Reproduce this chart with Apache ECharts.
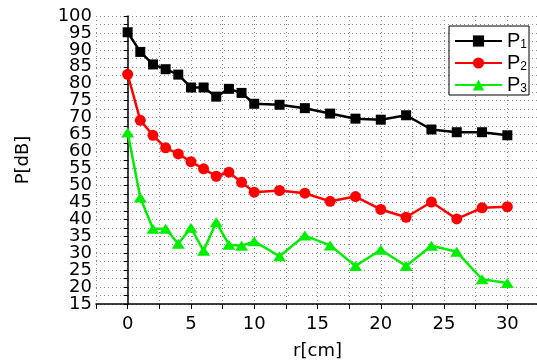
<!DOCTYPE html>
<html>
<head>
<meta charset="utf-8">
<script src="https://cdn.jsdelivr.net/npm/echarts@6/dist/echarts.min.js"></script>
<style>
html,body{margin:0;padding:0;background:#fff;}
#chart{width:537px;height:361px;}
</style>
</head>
<body>
<div id="chart"></div>
<script>
// r [cm] positions shared by all three series
var rValues = [0, 1, 2, 3, 4, 5, 6, 7, 8, 9, 10, 12, 14, 16, 18, 20, 22, 24, 26, 28, 30];
var p1 = [95.2, 89.4, 85.7, 84.3, 82.7, 78.9, 78.9, 76.2, 78.5, 77.3, 74.1, 73.8, 72.8, 71.2, 69.7, 69.4, 70.7, 66.5, 65.7, 65.7, 64.8];
var p2 = [82.8, 69.2, 64.8, 61.1, 59.3, 57.0, 54.9, 52.7, 53.9, 50.9, 48.0, 48.5, 47.7, 45.3, 46.7, 42.9, 40.6, 45.1, 40.1, 43.4, 43.7];
var p3 = [65.6, 46.4, 37.2, 37.2, 32.8, 37.5, 30.7, 39.1, 32.5, 32.2, 33.5, 29.1, 35.2, 32.3, 26.2, 31.0, 26.2, 32.2, 30.4, 22.3, 21.2];
var seriesNames = ['P1', 'P2', 'P3'];
var xTicks = [0, 5, 10, 15, 20, 25, 30];
var yTicks = [15, 20, 25, 30, 35, 40, 45, 50, 55, 60, 65, 70, 75, 80, 85, 90, 95, 100];

function pairs(ys) {
  return rValues.map(function (r, i) { return [r, ys[i]]; });
}

var chart = echarts.init(document.getElementById('chart'));
var font = 'DejaVu Sans';
var dotted = { type: [1, 3], color: '#8a8a8a', width: 1 };

var option = {
  animation: false,
  grid: { left: 96, top: 16, bottom: 57, right: -2, outerBoundsMode: 'none', containLabel: false },
  legend: {
    left: 449, top: 26,
    orient: 'vertical',
    data: seriesNames,
    backgroundColor: '#fff',
    borderColor: '#000', borderWidth: 1,
    padding: [5, 2, 0, 5],
    itemWidth: 47, itemHeight: 14, itemGap: 2,
    formatter: function (name) { return 'P{s|' + name.slice(1) + '}'; },
    textStyle: {
      fontFamily: 'Liberation Sans', fontSize: 20, color: '#000',
      rich: { s: { fontFamily: 'Liberation Sans', fontSize: 12, color: '#000', padding: [8, 0, 0, 0] } }
    }
  },
  xAxis: {
    type: 'value', min: -2.5, max: 32.5, interval: 2.5,
    name: 'r[cm]', nameLocation: 'middle', nameGap: 38,
    nameTextStyle: { fontFamily: font, fontSize: 18, color: '#000' },
    axisLine: { lineStyle: { color: '#000', width: 1.5 } },
    axisTick: { length: 5, lineStyle: { color: '#000' } },
    axisLabel: {
      fontFamily: font, fontSize: 18, color: '#000', margin: 11,
      formatter: function (v) { return xTicks.indexOf(v) >= 0 ? String(v) : ''; }
    },
    splitLine: { show: true, lineStyle: dotted }
  },
  yAxis: {
    type: 'value', min: 15, max: 100, interval: 2.5,
    name: 'P[dB]', nameLocation: 'middle', nameGap: 64, nameRotate: 90,
    nameTextStyle: { fontFamily: font, fontSize: 18, color: '#000' },
    axisLine: { show: true, lineStyle: { color: '#000', width: 1.5 } },
    axisTick: { length: 4, lineStyle: { color: '#000' } },
    axisLabel: {
      fontFamily: font, fontSize: 18, color: '#000', margin: 4,
      formatter: function (v) { return yTicks.indexOf(v) >= 0 ? String(v) : ''; }
    },
    splitLine: { show: true, lineStyle: dotted }
  },
  series: [
    {
      name: 'P1', type: 'line', data: pairs(p1),
      symbol: 'rect', symbolSize: 10,
      lineStyle: { color: '#000', width: 2.5 },
      itemStyle: { color: '#000' }
    },
    {
      name: 'P2', type: 'line', data: pairs(p2),
      symbol: 'circle', symbolSize: 11,
      lineStyle: { color: '#ff0000', width: 2.5 },
      itemStyle: { color: '#ff0000' }
    },
    {
      name: 'P3', type: 'line', data: pairs(p3),
      symbol: 'triangle', symbolSize: [13, 10],
      lineStyle: { color: '#00ee00', width: 2.5 },
      itemStyle: { color: '#00ee00' }
    }
  ]
};

chart.setOption(option);
</script>
</body>
</html>
